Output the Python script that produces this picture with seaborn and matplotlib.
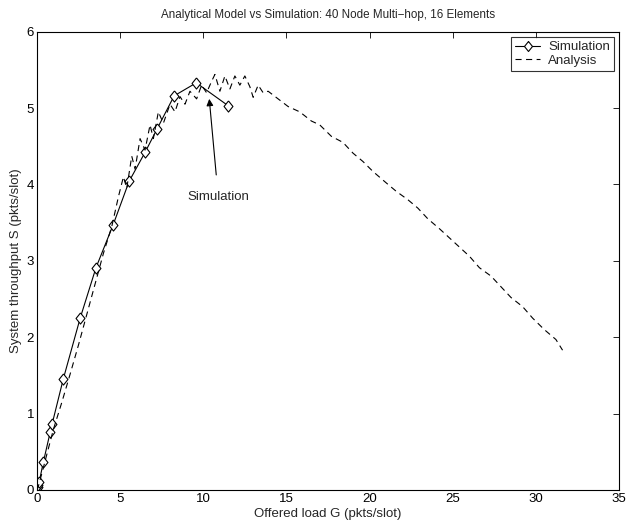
import matplotlib
matplotlib.use("Agg")
import matplotlib.pyplot as plt
import seaborn as sns
import pandas as pd

sim_G = [0.0, 0.02, 0.05, 0.08, 0.14, 0.38, 0.8, 0.92, 1.58, 2.6, 3.55, 4.58, 5.54, 6.5, 7.23, 8.25, 9.58, 11.5]
sim_S = [0.0, 0.02, 0.04, 0.07, 0.11, 0.36, 0.76, 0.87, 1.45, 2.25, 2.91, 3.47, 4.04, 4.42, 4.73, 5.16, 5.33, 5.03]

ana_G = [0, 0.1, 0.3, 0.6, 1.0, 1.5, 2.0, 2.5, 3.0, 3.5, 4.0, 4.5, 4.9, 5.2, 5.4, 5.7, 5.9, 6.2, 6.5, 6.8,
         7.0, 7.3, 7.6, 8.0, 8.3, 8.6, 8.9, 9.2, 9.6, 9.9, 10.2, 10.5, 10.7, 11.0, 11.3, 11.6, 11.9, 12.2,
         12.5, 12.8, 13.0, 13.3, 13.6, 13.9, 14.5, 15.1, 15.8, 16.5, 17.0, 17.7, 18.4, 19.0, 19.6, 20.2,
         21.0, 21.6, 22.3, 22.9, 23.5, 24.2, 24.8, 25.3, 26.0, 26.6, 27.3, 27.9, 28.5, 29.2, 29.8, 30.5,
         31.2, 31.6]
ana_S = [0, 0.06, 0.22, 0.47, 0.8, 1.15, 1.52, 1.9, 2.3, 2.7, 3.1, 3.45, 3.84, 4.1, 3.95, 4.37, 4.2, 4.6,
         4.45, 4.78, 4.6, 4.95, 4.8, 5.05, 4.95, 5.15, 5.05, 5.22, 5.12, 5.3, 5.2, 5.35, 5.44, 5.22, 5.42,
         5.25, 5.42, 5.3, 5.42, 5.28, 5.14, 5.3, 5.2, 5.22, 5.12, 5.02, 4.95, 4.83, 4.78, 4.63, 4.55, 4.41,
         4.3, 4.17, 4.02, 3.91, 3.8, 3.69, 3.55, 3.42, 3.3, 3.2, 3.06, 2.91, 2.8, 2.66, 2.52, 2.4, 2.25,
         2.1, 1.97, 1.83]

title = "Analytical Model vs Simulation: 40 Node Multi\u2212hop, 16 Elements"
xlabel = "Offered load G (pkts/slot)"
ylabel = "System throughput S (pkts/slot)"
annot_text = "Simulation"
annot_xy = (10.36, 5.12)
annot_text_xy = (10.9, 3.84)

sns.set_style("white")
plt.rcParams['font.family'] = ['Liberation Sans', 'DejaVu Sans']
plt.rcParams['font.size'] = 9.5

fig = plt.figure(figsize=(6.26, 5.25), dpi=100)
ax = fig.add_axes([0.059, 0.0667, 0.93, 0.873])

sim_df = pd.DataFrame({"G": sim_G, "S": sim_S})
ana_df = pd.DataFrame({"G": ana_G, "S": ana_S})

diamond = [(0, 1), (0.8, 0), (0, -1), (-0.8, 0), (0, 1)]

sns.lineplot(data=sim_df, x="G", y="S", ax=ax, sort=False, estimator=None, color="black",
             lw=0.8, marker=diamond, markersize=8, markerfacecolor="white", markeredgecolor="black",
             markeredgewidth=0.8, label="Simulation")
sns.lineplot(data=ana_df, x="G", y="S", ax=ax, sort=False, estimator=None, color="black",
             lw=0.8, linestyle=(0, (5.5, 4)), label="Analysis")

ax.set_xlim(0, 35)
ax.set_ylim(0, 6)
ax.set_xticks(range(0, 36, 5))
ax.set_yticks(range(0, 7))
ax.tick_params(direction="in", top=True, right=True, length=4, width=0.6, labelsize=9.5, pad=2,
               colors="black")
for s in ax.spines.values():
    s.set_visible(True)
    s.set_color("black")
    s.set_linewidth(0.8)

ax.set_title(title, fontsize=8.4, pad=10)
ax.set_xlabel(xlabel, fontsize=9.5, labelpad=2)
ax.set_ylabel(ylabel, fontsize=9.5, labelpad=3)

ax.annotate(annot_text, xy=annot_xy, xytext=annot_text_xy, ha="center", va="center", fontsize=9.5,
            arrowprops=dict(arrowstyle="-|>", color="black", lw=0.8, shrinkA=9, shrinkB=0,
                            mutation_scale=10))

leg = ax.legend(loc="upper right", frameon=True, fancybox=False, fontsize=9.5, borderaxespad=0.4,
                handlelength=1.9, borderpad=0.3, labelspacing=0.1, handletextpad=0.6, markerscale=0.9)
leg.get_frame().set_edgecolor("black")
leg.get_frame().set_linewidth(0.8)

fig.savefig("out.png", dpi=100)
